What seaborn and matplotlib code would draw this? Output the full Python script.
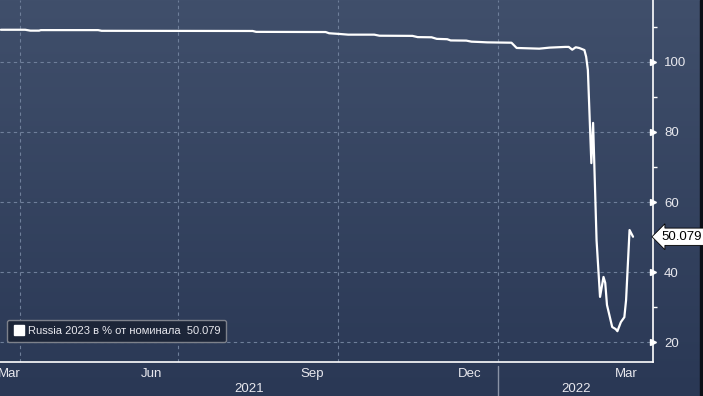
import numpy as np
import pandas as pd
import matplotlib
matplotlib.use("Agg")
import matplotlib.pyplot as plt
import matplotlib.dates as mdates
from matplotlib.lines import Line2D
import seaborn as sns

# ---- data ----
dates = ["2021-03-21", "2021-04-04", "2021-04-07", "2021-04-12", "2021-04-13", "2021-05-16",
         "2021-05-18", "2021-08-13", "2021-08-15", "2021-09-24", "2021-09-26", "2021-10-02",
         "2021-10-07", "2021-10-22", "2021-10-25", "2021-11-13", "2021-11-16", "2021-11-24",
         "2021-11-27", "2021-12-03", "2021-12-05", "2021-12-14", "2021-12-17", "2021-12-22",
         "2021-12-26", "2022-01-09", "2022-01-12", "2022-01-25", "2022-01-31", "2022-02-09",
         "2022-02-11", "2022-02-13", "2022-02-15", "2022-02-17", "2022-02-20", "2022-02-21",
         "2022-02-22", "2022-02-24", "2022-02-25", "2022-02-27", "2022-03-01", "2022-03-03",
         "2022-03-04", "2022-03-05", "2022-03-08", "2022-03-10", "2022-03-11", "2022-03-13",
         "2022-03-15", "2022-03-16", "2022-03-18", "2022-03-20"]
prices = [109.2, 109.2, 108.95, 108.95, 109.1, 109.1,
          108.9, 108.85, 108.6, 108.55, 108.2, 108.0,
          107.8, 107.8, 107.5, 107.45, 107.1, 107.05,
          106.6, 106.5, 106.15, 106.1, 105.8, 105.7,
          105.6, 105.5, 104.0, 103.8, 104.1, 104.3,
          104.3, 103.5, 104.2, 104.0, 103.4, 101.5,
          97.7, 71.1, 82.6, 49.1, 32.9, 38.6,
          36.9, 30.6, 24.3, 23.7, 23.1, 25.7,
          27.1, 32.0, 52.0, 50.079]
series_label = "Russia 2023 в % от номинала"
last_value = "50.079"
y_ticks = [20, 40, 60, 80, 100]
y_minor = [30, 50, 70, 90, 110]
month_labels = ["Mar", "Jun", "Sep", "Dec", "Mar"]
month_label_dates = ["2021-03-26", "2021-06-16", "2021-09-16", "2021-12-16", "2022-03-16"]
year_labels = ["2021", "2022"]
year_label_dates = ["2021-08-11", "2022-02-15"]
grid_dates = ["2021-04-01", "2021-07-01", "2021-10-01", "2022-01-01"]

df = pd.DataFrame({"date": pd.to_datetime(dates), "price": prices})

sns.set_style("white")
plt.rcParams["font.family"] = ["Liberation Sans", "DejaVu Sans"]

W, H = 703, 396
fig = plt.figure(figsize=(W / 100, H / 100), dpi=100)

# background gradient
bg = fig.add_axes([0, 0, 1, 1], zorder=-10)
grad = np.linspace(0, 1, 256).reshape(-1, 1)
top = np.array([0x40, 0x4f, 0x6b]) / 255
bot = np.array([0x2a, 0x38, 0x55]) / 255
img = top[None, None, :] * (1 - grad[:, :, None]) + bot[None, None, :] * grad[:, :, None]
bg.imshow(img, aspect="auto", extent=[0, 1, 0, 1])
bg.set_axis_off()
# dark right border
bg.add_patch(plt.Rectangle((700 / W, 0), 3 / W, 1, color="#0c0f16", transform=bg.transAxes))

ax = fig.add_axes([0, (H - 362) / H, 653 / W, 362 / H])
ax.set_facecolor("none")

sns.lineplot(data=df, x="date", y="price", ax=ax, color="white", linewidth=1.6, legend=False)

xmin = pd.Timestamp("2021-03-20 12:00")
xmax = pd.Timestamp("2022-03-31 12:00")
ax.set_xlim(xmin, xmax)
ax.set_ylim(14.3, 117.7)

# spines
for s in ["top", "left"]:
    ax.spines[s].set_visible(False)
for s in ["bottom", "right"]:
    ax.spines[s].set_color("white")
    ax.spines[s].set_linewidth(1.2)

# y axis on right
ax.yaxis.tick_right()
ax.set_yticks(y_ticks)
ax.set_yticks(y_minor, minor=True)
ax.tick_params(axis="y", which="major", length=0, pad=8, labelsize=9.5, labelcolor="#e8e8ee")
ax.tick_params(axis="y", which="minor", length=3, width=1, color="white", direction="out")
ax.set_ylabel("")
ax.plot([1.0] * len(y_ticks), y_ticks, marker=">", markersize=5, color="white",
        linestyle="none", transform=ax.get_yaxis_transform(), clip_on=False)

# grid
for v in y_ticks:
    ax.axhline(v, color="#6f7f9a", linestyle=(0, (3, 3)), linewidth=0.8, zorder=0)
for d in grid_dates:
    ax.axvline(pd.Timestamp(d), color="#6f7f9a", linestyle=(0, (3, 3)), linewidth=0.8, zorder=0)

# x axis: minor ticks at month starts, labels centred on the visible month
ax.xaxis.set_minor_locator(mdates.MonthLocator())
ax.set_xticks(pd.to_datetime(month_label_dates))
ax.set_xticklabels(month_labels)
ax.tick_params(axis="x", which="major", length=0, pad=4, labelsize=9.5, labelcolor="#e8e8ee")
ax.tick_params(axis="x", which="minor", length=4, width=1, color="white", direction="out")
ax.set_xlabel("")

for lab, d in zip(year_labels, year_label_dates):
    ax.text(pd.Timestamp(d), -0.075, lab, transform=ax.get_xaxis_transform(),
            ha="center", va="center", fontsize=9.5, color="#e8e8ee")
# year separator
ax.plot([pd.Timestamp("2022-01-01")] * 2, [-0.01, -0.1], color="#8a93a6", linewidth=1,
        transform=ax.get_xaxis_transform(), clip_on=False)

# last value label
ax.annotate(last_value, xy=(1.0, float(last_value)), xycoords=ax.get_yaxis_transform(),
            xytext=(6, 0), textcoords="offset points", ha="left", va="center",
            fontsize=9.5, color="black",
            bbox=dict(boxstyle="larrow,pad=0.2", fc="white", ec="black", lw=0.6),
            annotation_clip=False)

# legend
handle = Line2D([], [], marker="s", color="white", markersize=7, linestyle="none")
leg = ax.legend([handle], [f"{series_label}  {last_value}"], loc="upper left",
                bbox_to_anchor=(7 / W, 1 - 320 / H), bbox_transform=fig.transFigure,
                frameon=True, fancybox=True, fontsize=8, handletextpad=0.3,
                borderpad=0.55, handlelength=1.0, borderaxespad=0)
frame = leg.get_frame()
frame.set_facecolor("#1c2538")
frame.set_edgecolor("#7d818b")
frame.set_alpha(1)
for t in leg.get_texts():
    t.set_color("#e8e8ee")

fig.savefig("out.png", dpi=100)
